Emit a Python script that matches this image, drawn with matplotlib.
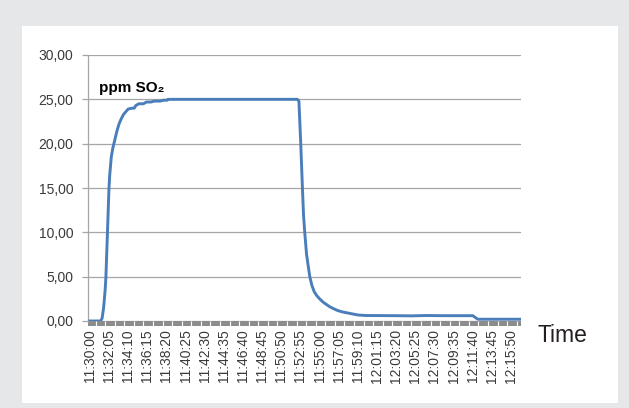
import numpy as np
import matplotlib.pyplot as plt
from matplotlib.patches import Rectangle

# Messzeit in Sekunden ab 11:30:00 und SO2-Konzentration (ppm)
t_sec = [0, 70, 80, 90, 100, 105, 110, 115, 120, 125, 130, 140, 150, 160, 175,
         190, 205, 220, 235, 250, 275, 290, 300, 320, 350, 370, 400, 420, 460,
         480, 505, 510, 1355, 1365, 1372, 1377, 1388, 1395, 1403, 1415, 1436,
         1450, 1465, 1480, 1500, 1525, 1550, 1567, 1590, 1615, 1643, 1670, 1700,
         1749, 1800, 2000, 2100, 2200, 2300, 2400, 2500, 2533, 2815]
ppm = [0.0, 0.0, 0.3, 1.5, 3.5, 5.0, 7.5, 10.0, 12.5, 15.0, 16.5, 18.5, 19.5,
       20.2, 21.3, 22.2, 22.8, 23.3, 23.6, 23.9, 24.0, 24.0, 24.3, 24.5, 24.5,
       24.7, 24.7, 24.8, 24.8, 24.9, 24.9, 25.0, 25.0, 24.8, 22.0, 20.0, 15.0,
       12.0, 10.0, 7.5, 5.0, 4.0, 3.3, 2.9, 2.5, 2.1, 1.8, 1.6, 1.4, 1.2, 1.05,
       0.95, 0.85, 0.68, 0.62, 0.60, 0.58, 0.62, 0.60, 0.60, 0.60, 0.20, 0.20]

tick_sec = np.arange(0, 2751, 125)
tick_labels = ["%d:%02d:%02d" % (11 + (30 * 60 + s) // 3600, ((30 * 60 + s) // 60) % 60, s % 60)
               for s in tick_sec]
y_ticks = [0, 5, 10, 15, 20, 25, 30]
y_labels = [("%.2f" % v).replace(".", ",") for v in y_ticks]

W, H = 629, 408
fig = plt.figure(figsize=(W / 100, H / 100), dpi=100)
fig.patch.set_facecolor("#e6e7e8")
# weisses Panel
fig.patches.append(Rectangle((22 / W, 1 - 403 / H), (618 - 22) / W, (403 - 26) / H,
                             transform=fig.transFigure, facecolor="white",
                             edgecolor="none", zorder=-1))

ax = fig.add_axes([88 / W, 1 - 321 / H, (521 - 88) / W, (321 - 55) / H])
ax.set_facecolor("white")
ax.plot(t_sec, ppm, color="#4a7ebb", lw=2.1, solid_joinstyle="round", zorder=3)

ax.set_xlim(-12, 2815)
ax.set_ylim(0, 30)
ax.set_yticks(y_ticks)
ax.set_yticklabels(y_labels, family="Liberation Sans")
ax.grid(axis="y", color="#a6a6a6", lw=0.9)
ax.set_axisbelow(True)

for s in ["top", "right", "bottom"]:
    ax.spines[s].set_visible(False)
ax.spines["left"].set_color("#a6a6a6")
ax.spines["left"].set_linewidth(0.9)

ax.tick_params(axis="y", length=4.5, width=0.9, color="#a6a6a6", pad=6,
               labelsize=10, labelcolor="#3a3a3a")

ax.set_xticks(tick_sec)
ax.set_xticklabels(tick_labels, rotation=90, family="Liberation Sans",
                   size=10, color="#3a3a3a")
ax.tick_params(axis="x", which="major", length=0, pad=6)

# grauer Achsenbalken mit weissen Trennstrichen
ax.add_patch(Rectangle((-12, -0.017), 2827, 0.017,
                       transform=ax.get_xaxis_transform(), facecolor="#8c8c8c",
                       edgecolor="none", clip_on=False, zorder=0.2))
ax.set_xticks(np.arange(37.5, 2815, 62.5), minor=True)
ax.tick_params(axis="x", which="minor", length=3.3, width=0.8, color="white",
               direction="out")

ax.text(0.025, 0.875, "ppm SO\u2082", transform=ax.transAxes, fontsize=11,
        fontweight="bold", family=["Liberation Sans", "DejaVu Sans"],
        color="black", va="center")

fig.text(537 / W, 1 - 335 / H, "Time", fontsize=16.5, family="Liberation Sans",
         color="#231f20", va="center", ha="left")

fig.savefig("out.png", dpi=100, facecolor=fig.get_facecolor())
